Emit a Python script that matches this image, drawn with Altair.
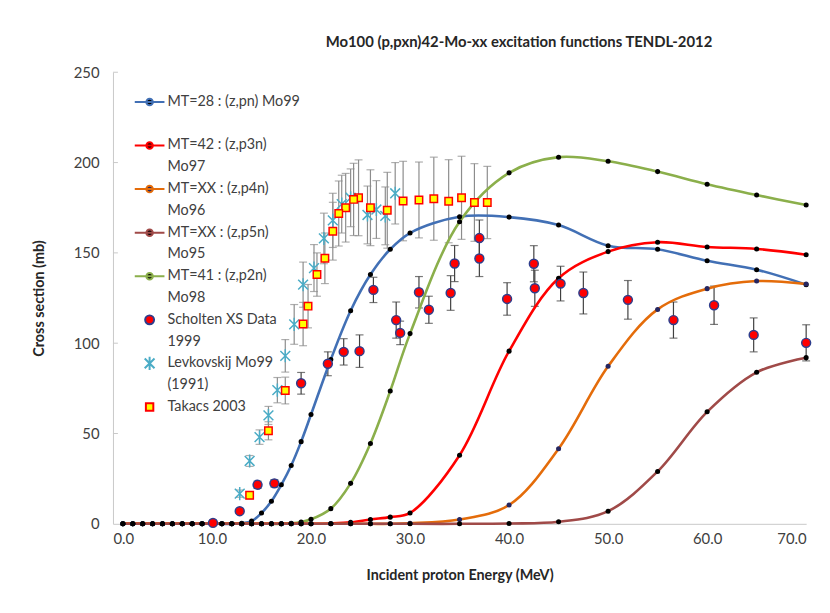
import altair as alt
import pandas as pd

# ---------------- data ----------------
E_MODEL = list(range(1, 21)) + [22, 24, 26, 28, 30, 35, 40, 45, 50, 55, 60, 65, 70]
MT28_PN = [0] * 12 + [0.3, 1.5, 6, 12.5, 21.6, 32.3, 45.5, 60.5,
                      91, 118, 138, 152, 161, 170, 169.8, 165.4, 154, 152, 145.6, 140.7, 132.4]
MT42_P3N = [0] * 20 + [0.2, 0.8, 2.4, 3.7, 6, 38, 95.6, 136, 150.7, 155.9, 153.3, 152.2, 149]
MTXX_P4N = [0] * 20 + [0, 0, 0, 0, 0.3, 2.4, 10.4, 41.6, 87.2, 118.7, 130.2, 134.4, 132.8]
MTXX_P5N = [0] * 20 + [0, 0, 0, 0, 0, 0, 0.2, 1.1, 7, 29, 62, 83.9, 92]
MT41_P2N = [0] * 17 + [0.3, 1, 2.5,
                       8.4, 22.4, 44.5, 73.5, 105.3, 167.2, 194.3, 203, 200.7, 195, 188, 182, 176.5]

SCH_E = [10.1, 12.8, 14.6, 16.3, 19.0, 21.7, 23.3, 24.9, 26.3, 28.6, 29.0, 30.9, 31.9, 34.1, 34.5,
         37.0, 37.0, 39.8, 42.5, 42.6, 45.2, 47.5, 52.0, 56.6, 60.7, 64.7, 70.0]
SCH_S = [0.5, 7, 21.6, 22.4, 77.8, 88.6, 95.2, 95.6, 129.5, 112.8, 105.7, 128.2, 118.5, 127.8, 144.1,
         158.2, 146.9, 124.5, 144.0, 130.4, 133.0, 127.8, 124.0, 112.8, 121.0, 104.6, 100.2]
SCH_ERR = [0, 1, 2, 2, 6, 6.6, 7.3, 9, 7, 10, 6.5, 8.7, 7.5, 9.6, 10,
           10, 10, 9, 10, 10, 9.6, 11.6, 10.7, 10, 10.6, 9.4, 10]

LEV_E = [12.8, 13.8, 14.8, 15.7, 16.6, 17.4, 18.3, 19.2, 20.3, 21.3, 22.2, 23.1, 24.0, 25.7, 26.6, 27.5, 28.5]
LEV_S = [16.7, 34.8, 48, 60, 74, 93, 110.4, 132.4, 141.6, 158, 168, 177, 180.5, 171, 174, 170.5, 183]
LEV_ERR = [2, 3, 4, 5, 7, 9, 11, 12.5, 13, 14, 15, 16, 16, 16, 16, 16, 17]

TAK_E = [13.8, 15.7, 17.4, 19.2, 19.7, 20.6, 21.4, 22.2, 22.8, 23.5, 24.3, 24.8, 26.0, 27.7, 29.3,
         30.9, 32.4, 33.9, 35.2, 36.5, 37.8]
TAK_S = [15.8, 51.5, 73.8, 110.6, 120.5, 138, 147, 162, 171.8, 175, 179.6, 180.5, 175, 173.6, 178.7,
         179.3, 180, 178.6, 180.5, 177.9, 177.9]
TAK_ERR = [2, 5, 7.4, 12, 12, 12, 14, 16, 18, 19, 20, 21, 21, 21, 22, 21, 23, 23, 23, 21.5, 20]

Y_TICKS = [50, 100, 150, 200, 250]

K28 = "MT=28 : (z,pn) Mo99"
K42 = "MT=42 : (z,p3n)"
K96 = "MT=XX : (z,p4n)"
K95 = "MT=XX : (z,p5n)"
K41 = "MT=41 : (z,p2n)"
KSCH = "Scholten XS Data"
KLEV = "Levkovskij Mo99"
KTAK = "Takacs 2003"

KEYS = [K28, " ", K42, "Mo97", K96, "Mo96", K95, "Mo95", K41, "Mo98",
        KSCH, "1999", KLEV, "(1991)", KTAK]

BLUE, RED, ORANGE, BROWN, GREEN = "#4270B5", "#FF0000", "#E46C0A", "#A04A48", "#8BAF4B"
T = "transparent"
LINE_SYM = "M-1,0L1,0M-0.22,0A0.22,0.22,0,1,1,0.22,0A0.22,0.22,0,1,1,-0.22,0Z"
CIRC_SYM = "M-0.3,0A0.3,0.3,0,1,1,0.3,0A0.3,0.3,0,1,1,-0.3,0Z"
SQ_SYM = "M-0.25,-0.25L0.25,-0.25L0.25,0.25L-0.25,0.25Z"
AST_SYM = "M-0.33,-0.33L0.33,0.33M-0.33,0.33L0.33,-0.33M0,-0.44L0,0.44"

STROKE_RANGE = [BLUE, T, RED, T, ORANGE, T, BROWN, T, GREEN, T, "#2E3D8C", T, "#4BACC6", T, "#FF0000"]
FILL_RANGE = ["black", T, "black", T, "#262660", T, "black", T, "black", T, "#FF0000", T, T, T, "#FFFF00"]
SHAPE_RANGE = [LINE_SYM, "circle", LINE_SYM, "circle", LINE_SYM, "circle", LINE_SYM, "circle",
               LINE_SYM, "circle", CIRC_SYM, "circle", AST_SYM, "circle", SQ_SYM]

# ---------------- tables ----------------
model_rows = []
for key, vals in [(K28, MT28_PN), (K41, MT41_P2N), (K42, MT42_P3N), (K96, MTXX_P4N), (K95, MTXX_P5N)]:
    for e, s in zip(E_MODEL, vals):
        model_rows.append({"key": key, "E": e, "s": s})
model_df = pd.DataFrame(model_rows)

exp_rows = []
for key, es, ss, errs in [(KSCH, SCH_E, SCH_S, SCH_ERR), (KLEV, LEV_E, LEV_S, LEV_ERR),
                          (KTAK, TAK_E, TAK_S, TAK_ERR)]:
    for e, s, d in zip(es, ss, errs):
        exp_rows.append({"key": key, "E": e, "s": s, "lo": s - d, "hi": s + d, "err": d})
exp_df = pd.DataFrame(exp_rows)
exp_order = {KLEV: 0, KTAK: 1, KSCH: 2}
exp_df["ord"] = exp_df["key"].map(exp_order)
exp_df = exp_df.sort_values("ord")
err_df = exp_df[exp_df["err"] > 0]

# ---------------- encodings ----------------
xscale = alt.Scale(domain=[0, 70], nice=False, zero=False)
yscale = alt.Scale(domain=[0, 250], nice=False)
xaxis = alt.Axis(values=list(range(0, 71, 10)), format=".1f", title="Incident proton Energy (MeV)",
                 labelPadding=8, titleY=52, titleBaseline="middle")
yaxis = alt.Axis(values=[0, 50, 100, 150, 200, 250], title="Cross section (mb)",
                 labelPadding=14, titleX=-74, titleBaseline="middle")

legend = alt.Legend(title=None, orient="none", legendX=21, legendY=22, symbolSize=900,
                    clipHeight=16, rowPadding=6, labelOffset=2, labelFont="Lato",
                    labelFontSize=14.5, labelColor="#404040", symbolStrokeWidth=2,
                    padding=0, labelLimit=400, symbolOpacity=1)

stroke_enc = alt.Stroke("key:N", scale=alt.Scale(domain=KEYS, range=STROKE_RANGE), legend=legend)
fill_enc = alt.Fill("key:N", scale=alt.Scale(domain=KEYS, range=FILL_RANGE), legend=legend)
shape_enc = alt.Shape("key:N", scale=alt.Scale(domain=KEYS, range=SHAPE_RANGE), legend=legend)

X = alt.X("E:Q", scale=xscale, axis=xaxis)

ticks = alt.Chart(pd.DataFrame({"v": Y_TICKS})).mark_rule(color="#c8c8c8", strokeWidth=1).encode(
    y=alt.Y("v:Q", scale=yscale, axis=yaxis), x=alt.value(0), x2=alt.value(5))

def err_layers(df, color):
    rule = alt.Chart(df).mark_rule(color=color, strokeWidth=1.2).encode(
        x=X, y=alt.Y("lo:Q", scale=yscale, axis=yaxis), y2="hi:Q")
    cap_lo = alt.Chart(df).mark_tick(color=color, orient="horizontal", size=8, thickness=1.2).encode(
        x=X, y=alt.Y("lo:Q", scale=yscale, axis=yaxis))
    cap_hi = alt.Chart(df).mark_tick(color=color, orient="horizontal", size=8, thickness=1.2).encode(
        x=X, y=alt.Y("hi:Q", scale=yscale, axis=yaxis))
    return [rule, cap_lo, cap_hi]

err_other = err_df[err_df["key"] != KSCH]
err_sch = err_df[err_df["key"] == KSCH]

lines = alt.Chart(model_df).mark_line(interpolate="catmull-rom", strokeWidth=2.6).encode(
    x=X, y=alt.Y("s:Q", scale=yscale, axis=yaxis), stroke=stroke_enc)

markers = alt.Chart(model_df).mark_point(filled=True, shape="circle", size=26, opacity=1,
                                         strokeWidth=0).encode(
    x=X, y=alt.Y("s:Q", scale=yscale, axis=yaxis), fill=fill_enc)

scatter = alt.Chart(exp_df).mark_point(filled=True, size=900, strokeWidth=1.5, opacity=1).encode(
    x=X, y=alt.Y("s:Q", scale=yscale, axis=yaxis), shape=shape_enc, fill=fill_enc, stroke=stroke_enc,
    order=alt.Order("ord:Q"))

chart = alt.layer(
    ticks, *err_layers(err_other, "#8C8C8C"), *err_layers(err_sch, "#404040"),
    lines, markers, scatter
).properties(
    width=700, height=456,
    title=alt.TitleParams("Mo100 (p,pxn)42-Mo-xx excitation functions TENDL-2012",
                          anchor="middle", dx=60, offset=16),
    autosize=alt.AutoSizeParams(type="none"),
    padding={"left": 106, "top": 62, "right": 16, "bottom": 70},
).configure_axis(
    labelFont="Lato", titleFont="Lato", labelColor="#404040", titleColor="#262626",
    domainColor="#c8c8c8", grid=False, ticks=False, labelFontSize=15, titleFontSize=14.5,
    titleFontWeight="bold"
).configure_view(stroke=None).configure_title(
    font="Lato", fontSize=15, fontWeight="bold", color="#262626"
)

chart.save("out.html", embed_options={"renderer": "svg", "actions": False})
